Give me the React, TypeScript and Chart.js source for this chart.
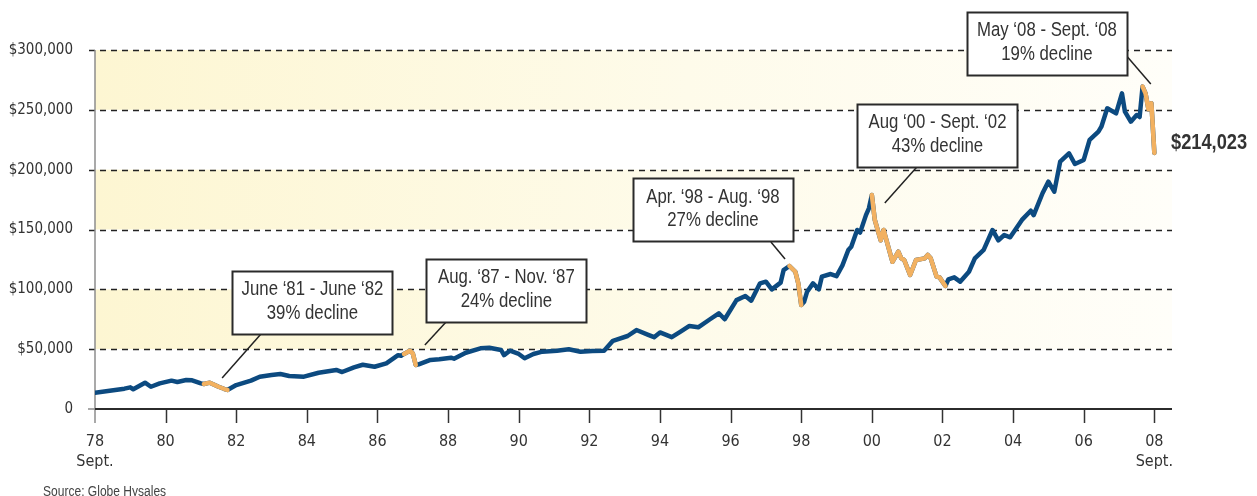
import React, { useEffect, useRef } from "react";
import { Chart, registerables } from "chart.js";

Chart.register(...registerables);

// Months since Sept. 1978
const MONTHS = [
  0, 5, 10, 12, 13, 17, 19, 22, 26, 28, 31, 33, 36, 37, 39, 42, 44, 45, 48, 53,
  56, 60, 63, 66, 71, 76, 82, 84, 88, 91, 95, 99, 103, 104, 105, 107, 108, 109, 110, 114,
  117, 121, 122, 126, 131, 134, 138, 139, 141, 144, 146, 149, 152, 157, 161, 165, 169, 173, 176, 181,
  184, 188, 190, 192, 196, 199, 202, 205, 209, 212, 214, 218, 221, 223, 226, 228, 230, 233, 234, 236,
  238, 239, 240, 241, 242, 244, 246, 247, 250, 252, 254, 256, 257, 259, 260, 262, 263, 264, 265, 267,
  268, 271, 273, 274, 275, 277, 279, 282, 283, 284, 286, 287, 289, 290, 292, 294, 297, 299, 302, 305,
  307, 309, 311, 315, 318, 319, 322, 324, 326, 328, 331, 333, 336, 338, 341, 342, 344, 347, 349, 350,
  352, 354, 355, 356, 357, 358, 359, 360,
];

const VALUES = [
  13600, 15300, 17000, 18100, 16500, 22000, 18600, 21400, 23700, 22600, 24200, 24000, 21400, 20900, 22000, 18600, 16700, 15900, 20000, 23700,
  27000, 28400, 29200, 27600, 27000, 30300, 32600, 30900, 34800, 37000, 35300, 38200, 45000, 44500, 46000, 48700, 46500, 36800, 37300, 41000,
  41500, 42900, 42000, 47000, 50700, 51200, 49300, 45000, 48700, 46000, 42400, 46000, 47900, 48700, 49900, 47900, 48500, 48700, 57000, 61000,
  66000, 62000, 60000, 64000, 60000, 64600, 69400, 68300, 75000, 80000, 75000, 91000, 94400, 90500, 105000, 106400, 100000, 105600, 116000, 119500,
  114700, 105000, 86900, 89700, 98000, 105000, 100000, 110600, 112800, 111000, 120000, 132900, 135600, 149600, 147400, 162000, 167700, 178800, 158000, 141000,
  149600, 123000, 131500, 125900, 124500, 112000, 124500, 125900, 128700, 125900, 110600, 110000, 102800, 108400, 110000, 106400, 114700, 125900, 132900, 149600,
  141000, 145400, 143500, 158000, 165700, 162000, 180300, 190000, 181600, 206700, 213700, 204700, 208100, 224800, 231800, 235900, 251300, 247000, 263800, 248500,
  240100, 245700, 244000, 269400, 263800, 250500, 255500, 214023,
];

// Decline periods [startMonth, endMonth]
const DECLINE_STARTS = [37, 105, 236, 264, 356];
const DECLINE_ENDS = [45, 109, 240, 289, 360];

const X_TICK_MONTHS = [0, 24, 48, 72, 96, 120, 144, 168, 192, 216, 240, 264, 288, 312, 336, 360];
const X_TICK_LABELS: (string | string[])[] = [
  ["78", "Sept."], "80", "82", "84", "86", "88", "90", "92", "94", "96", "98", "00", "02", "04", "06", ["08", "Sept."],
];
const Y_TICK_VALUES = [0, 50000, 100000, 150000, 200000, 250000, 300000];
const Y_TICK_LABELS = ["0", "$50,000", "$100,000", "$150,000", "$200,000", "$250,000", "$300,000"];

const BAND_STARTS = [50000, 150000, 250000];
const BAND_ENDS = [100000, 200000, 300000];

const ANNOTATION_LINES = [
  ["June \u201881 - June \u201882", "39% decline"],
  ["Aug. \u201887 - Nov. \u201887", "24% decline"],
  ["Apr. \u201898 - Aug. \u201898", "27% decline"],
  ["Aug \u201800 - Sept. \u201802", "43% decline"],
  ["May \u201808 - Sept. \u201808", "19% decline"],
];
// box centre (month, value)
const ANNOTATION_BOX_M = [73.9, 139.8, 210, 286.3, 323.5];
const ANNOTATION_BOX_V = [89000, 99000, 166300, 228600, 305400];
// connector from (month, value) to (month, value)
const CONNECTOR_FROM_M = [56.4, 119.3, 229.7, 279.3, 350.3];
const CONNECTOR_FROM_V = [62700, 72700, 139600, 202200, 295800];
const CONNECTOR_TO_M = [43.2, 112.1, 234.5, 268.4, 358.8];
const CONNECTOR_TO_V = [25900, 53500, 125400, 172200, 271600];

const END_LABEL = "$214,023";
const SOURCE_TEXT = "Source: Globe Hysales";

const TICK_FONT = '"DejaVu Sans Condensed", "DejaVu Sans", sans-serif';
const NARROW_FONT = '"Liberation Sans", Arial, sans-serif';
const BLUE = "#0c4a80";
const ORANGE = "#f2b161";
const TEXT = "#333333";

function narrowText(
  ctx: CanvasRenderingContext2D,
  text: string,
  x: number,
  y: number,
  size: number,
  bold: boolean,
  align: CanvasTextAlign,
  baseline: CanvasTextBaseline,
  sx: number
) {
  ctx.save();
  ctx.translate(x, y);
  ctx.scale(sx, 1);
  ctx.font = `${bold ? "bold " : ""}${size}px ${NARROW_FONT}`;
  ctx.textAlign = align;
  ctx.textBaseline = baseline;
  ctx.fillText(text, 0, 0);
  ctx.restore();
}

const backgroundPlugin = {
  id: "bg",
  beforeDatasetsDraw(chart: any) {
    const { ctx, chartArea, scales } = chart;
    const ys = scales.y;
    const xs = scales.x;
    const left = chartArea.left;
    const right = chartArea.right;
    ctx.save();
    for (let i = 0; i < BAND_STARTS.length; i++) {
      const y1 = ys.getPixelForValue(BAND_ENDS[i]);
      const y2 = ys.getPixelForValue(BAND_STARTS[i]);
      const g = ctx.createLinearGradient(left, 0, right, 0);
      g.addColorStop(0, "#fdf6d2");
      g.addColorStop(0.55, "#fefbea");
      g.addColorStop(1, "#fffef9");
      ctx.fillStyle = g;
      ctx.fillRect(left, y1, right - left, y2 - y1);
    }
    ctx.strokeStyle = "#222";
    ctx.lineWidth = 1.5;
    ctx.setLineDash([6, 5]);
    for (const v of Y_TICK_VALUES) {
      if (v === 0) continue;
      const y = Math.round(ys.getPixelForValue(v)) + 0.5;
      ctx.beginPath();
      ctx.moveTo(left - 6, y);
      ctx.lineTo(right, y);
      ctx.stroke();
    }
    ctx.setLineDash([]);
    const bottom = ys.getPixelForValue(0);
    ctx.strokeStyle = "#8c8c8c";
    ctx.lineWidth = 1.5;
    ctx.beginPath();
    ctx.moveTo(left, ys.getPixelForValue(300000));
    ctx.lineTo(left, bottom + 14);
    ctx.stroke();
    ctx.beginPath();
    ctx.moveTo(left - 7, bottom);
    ctx.lineTo(left, bottom);
    ctx.stroke();
    ctx.strokeStyle = "#333";
    for (let i = 1; i < X_TICK_MONTHS.length; i++) {
      const x = Math.round(xs.getPixelForValue(X_TICK_MONTHS[i])) + 0.5;
      ctx.beginPath();
      ctx.moveTo(x, bottom);
      ctx.lineTo(x, bottom + 14);
      ctx.stroke();
    }
    ctx.strokeStyle = "#2b2b2b";
    ctx.lineWidth = 2;
    ctx.beginPath();
    ctx.moveTo(left, bottom);
    ctx.lineTo(right, bottom);
    ctx.stroke();
    ctx.restore();
  },
  afterDatasetsDraw(chart: any) {
    const { ctx, scales } = chart;
    const xs = scales.x;
    const ys = scales.y;
    ctx.save();
    ctx.strokeStyle = "#222";
    ctx.lineWidth = 1.5;
    for (let i = 0; i < ANNOTATION_LINES.length; i++) {
      ctx.beginPath();
      ctx.moveTo(xs.getPixelForValue(CONNECTOR_FROM_M[i]), ys.getPixelForValue(CONNECTOR_FROM_V[i]));
      ctx.lineTo(xs.getPixelForValue(CONNECTOR_TO_M[i]), ys.getPixelForValue(CONNECTOR_TO_V[i]));
      ctx.stroke();
    }
    const W = 160;
    const H = 63;
    for (let i = 0; i < ANNOTATION_LINES.length; i++) {
      const cx = xs.getPixelForValue(ANNOTATION_BOX_M[i]);
      const cy = ys.getPixelForValue(ANNOTATION_BOX_V[i]);
      const x0 = Math.round(cx - W / 2) + 0.5;
      const y0 = Math.round(cy - H / 2) + 0.5;
      ctx.fillStyle = "#ffffff";
      ctx.fillRect(x0, y0, W, H);
      ctx.strokeStyle = "#2a2a2a";
      ctx.lineWidth = 2;
      ctx.strokeRect(x0, y0, W, H);
      ctx.fillStyle = TEXT;
      narrowText(ctx, ANNOTATION_LINES[i][0], cx, cy - 12.5, 19.5, false, "center", "middle", 0.86);
      narrowText(ctx, ANNOTATION_LINES[i][1], cx, cy + 11, 19.5, false, "center", "middle", 0.86);
    }
    const lastV = VALUES[VALUES.length - 1];
    ctx.fillStyle = TEXT;
    narrowText(ctx, END_LABEL, chart.chartArea.right - 1, ys.getPixelForValue(lastV) - 10, 22, true, "left", "middle", 0.83);
    ctx.fillStyle = "#444";
    narrowText(ctx, SOURCE_TEXT, 43, 485, 14, false, "left", "top", 0.86);
    ctx.restore();
  },
};

export default function App() {
  const ref = useRef<HTMLCanvasElement | null>(null);
  useEffect(() => {
    if (!ref.current) return;
    const inDecline = (m: number) =>
      DECLINE_STARTS.some((s, i) => m >= s && m <= DECLINE_ENDS[i]);
    const blueData = MONTHS.map((m, i) => ({ x: m, y: VALUES[i] }));
    const orangeData = MONTHS.map((m, i) => ({ x: m, y: inDecline(m) ? VALUES[i] : null }));
    const chart = new Chart(ref.current, {
      type: "line",
      data: {
        datasets: [
          {
            data: orangeData as any,
            borderColor: ORANGE,
            borderWidth: 4.5,
            pointRadius: 0,
            tension: 0,
            spanGaps: false,
            borderJoinStyle: "round",
            borderCapStyle: "round",
            order: 0,
          },
          {
            data: blueData,
            borderColor: BLUE,
            borderWidth: 4.5,
            pointRadius: 0,
            tension: 0,
            borderJoinStyle: "round",
            borderCapStyle: "round",
            order: 1,
          },
        ],
      },
      options: {
        responsive: false,
        animation: false,
        devicePixelRatio: 1,
        layout: { padding: { top: 50, right: 85, bottom: 0, left: 0 } },
        plugins: { legend: { display: false }, tooltip: { enabled: false } },
        events: [],
        scales: {
          x: {
            type: "linear",
            min: 0,
            max: 366,
            grid: { display: false, drawTicks: false },
            border: { display: false },
            afterBuildTicks: (scale: any) => {
              scale.ticks = X_TICK_MONTHS.map((v) => ({ value: v }));
            },
            afterFit: (scale: any) => {
              scale.height = 87;
            },
            ticks: {
              autoSkip: false,
              maxRotation: 0,
              padding: 23,
              color: TEXT,
              font: { family: TICK_FONT, size: 16, lineHeight: 1.25 },
              callback: (_v: any, i: number) => X_TICK_LABELS[i],
            },
          },
          y: {
            type: "linear",
            min: 0,
            max: 300000,
            grid: { display: false, drawTicks: false },
            border: { display: false },
            afterBuildTicks: (scale: any) => {
              scale.ticks = Y_TICK_VALUES.map((v) => ({ value: v }));
            },
            afterFit: (scale: any) => {
              scale.width = 95;
            },
            ticks: {
              padding: 22,
              color: TEXT,
              font: { family: TICK_FONT, size: 15 },
              callback: (_v: any, i: number) => Y_TICK_LABELS[i],
            },
          },
        },
      },
      plugins: [backgroundPlugin],
    });
    return () => chart.destroy();
  }, []);
  return (
    <div style={{ position: "fixed", left: 0, top: 0, width: 1257, height: 496, background: "#fff" }}>
      <canvas ref={ref} width={1257} height={496} style={{ display: "block" }} />
    </div>
  );
}
